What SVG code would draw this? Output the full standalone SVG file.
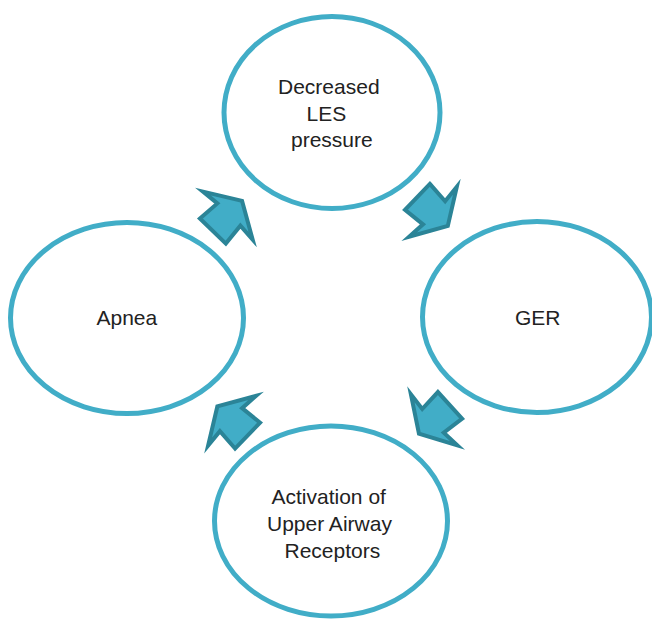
<svg xmlns="http://www.w3.org/2000/svg" xmlns:xlink="http://www.w3.org/1999/xlink" width="652" height="620" viewBox="0 0 652 620">
  <style>
    .node { fill: #ffffff; stroke: #41adc7; stroke-width: 5; }
    .label { font-family: "Liberation Sans", Arial, sans-serif; font-size: 21px; fill: #222222; }
    .cycle-arrow { fill: #41adc7; stroke: #2b8497; stroke-width: 4; stroke-linejoin: miter; stroke-miterlimit: 10; }
  </style>
  <defs>
    <!-- block arrow pointing along +x, origin at the middle of its tail -->
    <path id="block-arrow" d="M2,-18 L25,-16 L23.5,-34.5 L44,0 L23.5,34.5 L25,16 L2,18 Z"/>
  </defs>
  <rect width="652" height="620" fill="#ffffff"/>

  <g id="node-les">
    <ellipse class="node" cx="332" cy="112.5" rx="108" ry="96"/>
    <text class="label" x="278" y="94">Decreased</text>
    <text class="label" x="306.5" y="120.5">LES</text>
    <text class="label" x="291" y="147">pressure</text>
  </g>

  <g id="node-ger">
    <ellipse class="node" cx="537" cy="317" rx="114.5" ry="95.5"/>
    <text class="label" x="515" y="325">GER</text>
  </g>

  <g id="node-activation">
    <ellipse class="node" cx="331" cy="521" rx="116.5" ry="95"/>
    <text class="label" x="271.5" y="503.5">Activation of</text>
    <text class="label" x="267" y="531">Upper Airway</text>
    <text class="label" x="284.5" y="557.5">Receptors</text>
  </g>

  <g id="node-apnea">
    <ellipse class="node" cx="127" cy="318" rx="116.5" ry="95.5"/>
    <text class="label" x="96.5" y="325">Apnea</text>
  </g>

  <g id="connectors">
    <use xlink:href="#block-arrow" class="cycle-arrow" transform="translate(416,195.5) rotate(43.7)"/>
    <use xlink:href="#block-arrow" class="cycle-arrow" transform="translate(451.5,404) rotate(137.7)"/>
    <use xlink:href="#block-arrow" class="cycle-arrow" transform="translate(249,437) rotate(-136)"/>
    <use xlink:href="#block-arrow" class="cycle-arrow" transform="translate(211.5,232.5) rotate(-46)"/>
  </g>
</svg>
